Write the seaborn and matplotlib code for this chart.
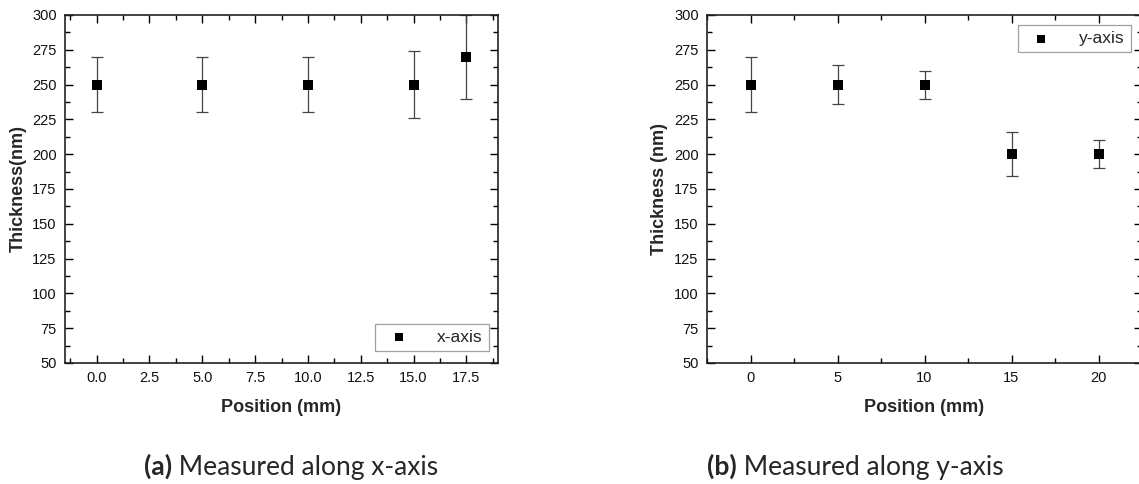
import matplotlib
matplotlib.use("Agg")
import matplotlib.pyplot as plt
import seaborn as sns
import pandas as pd
import numpy as np
from matplotlib.ticker import MultipleLocator

# ---- data ----
x_pos_a = [0.0, 5.0, 10.0, 15.0, 17.5]
thick_a = [250, 250, 250, 250, 270]
err_a = [20, 20, 20, 24, 30]

x_pos_b = [0, 5, 10, 15, 20]
thick_b = [250, 250, 250, 200, 200]
err_b = [20, 14, 10, 16, 10]

sns.set_theme(style="white")
plt.rcParams['font.family'] = ['Liberation Sans', 'DejaVu Sans']

W, H = 1139, 484
fig = plt.figure(figsize=(W / 100, H / 100), dpi=100)

def px_axes(l, t, r, b):
    return fig.add_axes([l / W, (H - b) / H, (r - l) / W, (b - t) / H])

ax1 = px_axes(65, 15, 498, 363)
ax2 = px_axes(707, 15, 1142, 363)

def draw(ax, xs, ys, es, label, xlim, xmaj, xmin, ylabel, loc, bbox, fmt):
    df = pd.DataFrame({"Position": xs, "Thickness": ys, "err": es})
    ax.errorbar(df["Position"], df["Thickness"], yerr=df["err"], fmt='none',
                ecolor='#444444', elinewidth=0.9, capsize=4, capthick=0.9, zorder=2)
    sns.scatterplot(data=df, x="Position", y="Thickness", marker='s', s=42,
                    color='black', edgecolor='black', linewidth=0, ax=ax,
                    label=label, zorder=3, clip_on=False)
    ax.set_xlim(*xlim)
    ax.set_ylim(50, 300)
    ax.xaxis.set_major_locator(MultipleLocator(xmaj))
    ax.xaxis.set_minor_locator(MultipleLocator(xmin))
    ax.yaxis.set_major_locator(MultipleLocator(25))
    ax.yaxis.set_minor_locator(MultipleLocator(12.5))
    ax.xaxis.set_major_formatter(matplotlib.ticker.FormatStrFormatter(fmt))
    ax.tick_params(which='both', direction='in', top=True, right=True,
                   bottom=True, left=True, colors='black', labelsize=10.5,
                   labelcolor='#111111')
    ax.tick_params(which='major', length=6, width=1.0, pad=6)
    ax.tick_params(which='minor', length=3.5, width=1.0)
    for sp in ax.spines.values():
        sp.set_color('#222222')
        sp.set_linewidth(1.2)
    ax.set_xlabel("Position (mm)", fontsize=13, fontweight='bold', labelpad=10)
    ax.set_ylabel(ylabel, fontsize=13, fontweight='bold', labelpad=4)
    leg = ax.legend(loc=loc, bbox_to_anchor=bbox, fontsize=12.5, frameon=True,
                    fancybox=False, edgecolor='#888888', borderpad=0.35,
                    handletextpad=1.2, markerscale=0.85, borderaxespad=0)
    leg.get_frame().set_linewidth(0.9)
    ax.set_facecolor('white')

draw(ax1, x_pos_a, thick_a, err_a, "x-axis", (-1.5, 19.0), 2.5, 1.25,
     "Thickness(nm)", 'lower right',
     ((488.7 - 65) / 433, (363 - 351) / 348), '%.1f')
draw(ax2, x_pos_b, thick_b, err_b, "y-axis", (-2.5, 22.5), 5, 2.5,
     "Thickness (nm)", 'upper right',
     ((1131 - 707) / 435, (363 - 25) / 348), '%d')

cap_font = ['Lato', 'DejaVu Sans']
def caption(xc, tag, text):
    y = (H - 475) / H
    t1 = fig.text(0, y, tag, fontsize=19, fontweight='bold', family=cap_font,
                  va='baseline', ha='left')
    t2 = fig.text(0, y, " " + text, fontsize=19, family=cap_font,
                  va='baseline', ha='left')
    fig.canvas.draw()
    r = fig.canvas.get_renderer()
    w1 = t1.get_window_extent(r).width
    w2 = t2.get_window_extent(r).width
    x0 = xc - (w1 + w2) / 2
    t1.set_x(x0 / W)
    t2.set_x((x0 + w1) / W)

caption(291, "(a)", "Measured along x-axis")
caption(855, "(b)", "Measured along y-axis")

fig.savefig("out.png", dpi=100, facecolor='white')
